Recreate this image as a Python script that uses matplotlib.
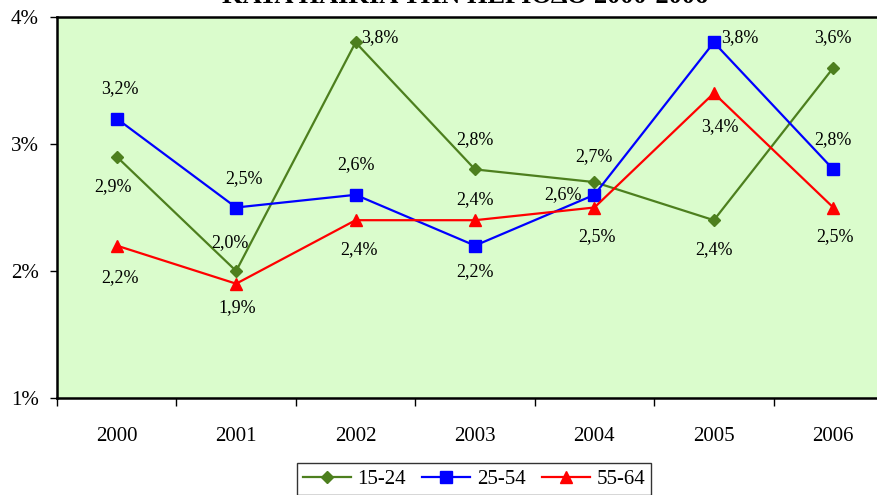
"""Unemployment-by-age line chart, 2000-2006."""

import matplotlib.pyplot as plt
from matplotlib.ticker import FixedLocator

YEARS = ["2000", "2001", "2002", "2003", "2004", "2005", "2006"]
AGE_15_24 = [2.9, 2.0, 3.8, 2.8, 2.7, 2.4, 3.6]
AGE_25_54 = [3.2, 2.5, 2.6, 2.2, 2.6, 3.8, 2.8]
AGE_55_64 = [2.2, 1.9, 2.4, 2.4, 2.5, 3.4, 2.5]
Y_TICKS = [1, 2, 3, 4]
Y_LABELS = ["1%", "2%", "3%", "4%"]
TITLE = "ΚΑΤΑ ΗΛΙΚΙΑ ΤΗΝ ΠΕΡΙΟΔΟ 2000-2006"

GREEN = "#4D7F1E"
BLUE = "#0000FF"
RED = "#FF0000"
PLOT_BG = "#DAFCCC"
FONT = "Liberation Serif"

# label offsets in pixels (dx, dy) relative to each point
OFFSETS = {
    "15-24": [(-4, -30), (-6, 28), (24, 5), (0, 30), (0, 26), (0, -29), (0, 30)],
    "25-54": [(3, 30), (8, 29), (0, 30), (0, -26), (-31, 0), (26, 5), (0, 30)],
    "55-64": [(3, -32), (1, -24), (3, -29), (0, 21), (3, -29), (6, -33), (2, -29)],
}

plt.rcParams["font.family"] = [FONT, "DejaVu Serif"]

fig = plt.figure(figsize=(8.77, 4.95), dpi=100)
ax = fig.add_axes([57 / 877, 97 / 495, 836 / 877, 381 / 495])
ax.set_facecolor(PLOT_BG)

x = list(range(len(YEARS)))
series = [
    ("15-24", AGE_15_24, GREEN, "D", 6),
    ("25-54", AGE_25_54, BLUE, "s", 8),
    ("55-64", AGE_55_64, RED, "^", 9),
]
for name, values, color, marker, size in series:
    ax.plot(x, values, color=color, linewidth=1.6, marker=marker, markersize=size,
            markeredgecolor=color, markerfacecolor=color, label=name, clip_on=False)
    for xi, yi, (dx, dy) in zip(x, values, OFFSETS[name]):
        ax.annotate(f"{yi:.1f}%".replace(".", ","), (xi, yi), xytext=(dx, dy),
                    textcoords="offset pixels", ha="center", va="center",
                    fontsize=13, color="black")

ax.set_xlim(-0.5, len(YEARS) - 0.5)
ax.set_ylim(1, 4)
ax.set_yticks(Y_TICKS)
ax.set_yticklabels(Y_LABELS, fontsize=15)
ax.tick_params(axis="y", direction="out", length=5, width=1, pad=8)

ax.xaxis.set_major_locator(FixedLocator([i - 0.5 for i in range(len(YEARS) + 1)]))
ax.xaxis.set_minor_locator(FixedLocator(x))
ax.set_xticklabels([], minor=False)
ax.set_xticklabels(YEARS, minor=True, fontsize=15)
ax.tick_params(axis="x", which="major", direction="out", length=6, width=1)
ax.tick_params(axis="x", which="minor", length=0, pad=21)

for side in ["left", "bottom", "top", "right"]:
    ax.spines[side].set_color("black")
    ax.spines[side].set_linewidth(1.8)

# title is cropped at the top edge, as in the source image
fig.text(465 / 877, 1 - 3 / 495, TITLE, ha="center", va="baseline",
         fontsize=19, fontweight="bold")

legend = fig.legend(loc="upper center", bbox_to_anchor=(474 / 877, 1 - 463 / 495),
                    ncol=3, fontsize=15, frameon=True, fancybox=False,
                    edgecolor="black", handlelength=2.3, handletextpad=0.3,
                    columnspacing=0.8, borderpad=0.3, borderaxespad=0)
legend.get_frame().set_linewidth(1.0)

fig.savefig("out.png", dpi=100)
